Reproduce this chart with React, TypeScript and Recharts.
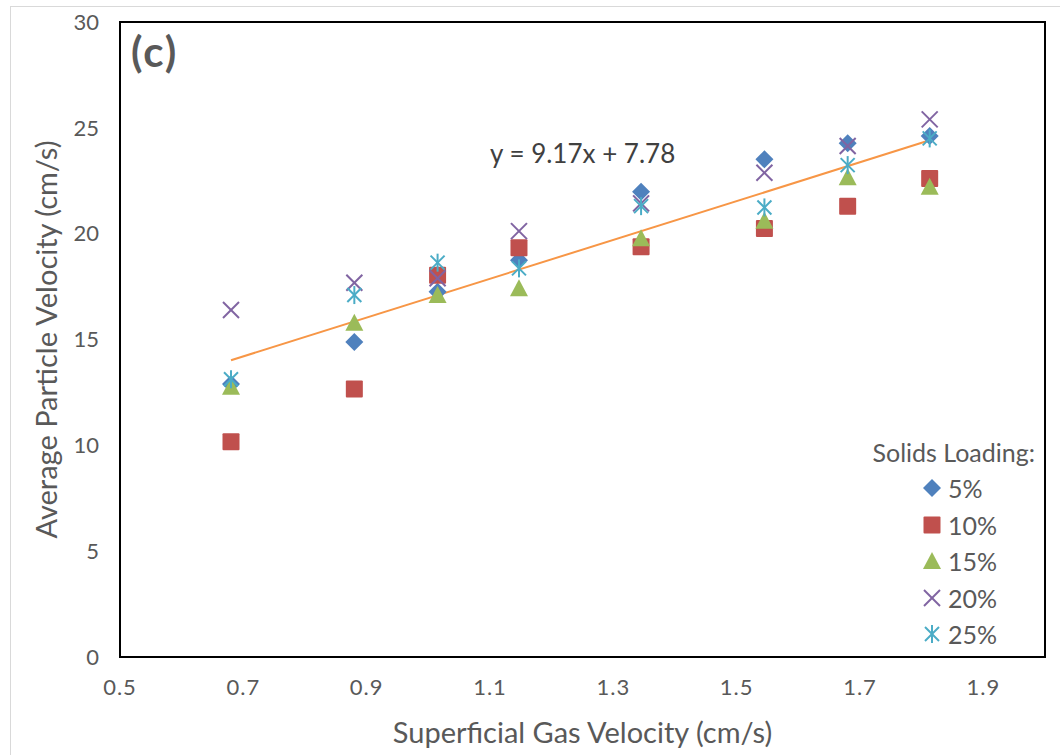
import React from 'react'
import {
  ScatterChart, Scatter, XAxis, YAxis, ReferenceArea, Legend, Label
} from 'recharts'

// superficial gas velocity (cm/s), shared by every loading series
const gasVelocity = [0.68, 0.88, 1.015, 1.147, 1.345, 1.545, 1.68, 1.813]

// average particle velocity (cm/s) per solids loading
const load5 = [12.9, 14.88, 17.26, 18.75, 21.98, 23.51, 24.27, 24.61]
const load10 = [10.17, 12.66, 18.04, 19.34, 19.38, 20.25, 21.3, 22.61]
const load15 = [12.77, 15.79, 17.1, 17.42, 19.78, 20.61, 22.66, 22.22]
const load20 = [16.39, 17.68, 17.89, 20.12, 21.43, 22.88, 24.14, 25.4]
const load25 = [13.12, 17.1, 18.63, 18.36, 21.3, 21.24, 23.24, 24.5]

// linear trendline end points, as drawn
const trendX = [0.68, 1.813]
const trendY = [14.02, 24.41]

const xTicks = [0.5, 0.7, 0.9, 1.1, 1.3, 1.5, 1.7, 1.9]
const yTicks = [0, 5, 10, 15, 20, 25, 30]

const FONT = 'Lato, "Open Sans", sans-serif'
const TEXT = '#595959'

type Kind = 'diamond' | 'square' | 'triangle' | 'x' | 'star'

const series: { name: string; kind: Kind; color: string; values: number[] }[] = [
  { name: '5%', kind: 'diamond', color: '#4F81BD', values: load5 },
  { name: '10%', kind: 'square', color: '#C0504D', values: load10 },
  { name: '15%', kind: 'triangle', color: '#9BBB59', values: load15 },
  { name: '20%', kind: 'x', color: '#8064A2', values: load20 },
  { name: '25%', kind: 'star', color: '#4BACC6', values: load25 },
]

const toPoints = (values: number[]) =>
  gasVelocity.map((x, i) => ({ x, y: values[i] }))

const trendData = trendX.map((x, i) => ({ x, y: trendY[i] }))

const Marker = ({ kind, cx, cy, color }: { kind: Kind; cx: number; cy: number; color: string }) => {
  if (cx == null || cy == null) return <g />
  switch (kind) {
    case 'diamond':
      return <polygon points={`${cx},${cy - 9} ${cx + 9},${cy} ${cx},${cy + 9} ${cx - 9},${cy}`} fill={color} />
    case 'square':
      return <rect x={cx - 8.5} y={cy - 8.5} width={17} height={17} rx={1} fill={color} />
    case 'triangle':
      return <polygon points={`${cx},${cy - 9} ${cx + 9},${cy + 8} ${cx - 9},${cy + 8}`} fill={color} />
    case 'x':
      return (
        <g stroke={color} strokeWidth={2}>
          <line x1={cx - 8} y1={cy - 8} x2={cx + 8} y2={cy + 8} />
          <line x1={cx - 8} y1={cy + 8} x2={cx + 8} y2={cy - 8} />
        </g>
      )
    default:
      return (
        <g stroke={color} strokeWidth={2}>
          <line x1={cx - 7} y1={cy - 7} x2={cx + 7} y2={cy + 7} />
          <line x1={cx - 7} y1={cy + 7} x2={cx + 7} y2={cy - 7} />
          <line x1={cx} y1={cy - 9} x2={cx} y2={cy + 9} />
        </g>
      )
  }
}

const LegendBox = () => (
  <div style={{ fontFamily: FONT, color: TEXT, fontSize: 25 }}>
    <div style={{ height: 36, lineHeight: '36px', textAlign: 'right', paddingRight: 5 }}>Solids Loading:</div>
    {series.map((s) => (
      <div key={s.name} style={{ display: 'flex', alignItems: 'center', height: 36.5, paddingLeft: 81 }}>
        <svg width={22} height={22} style={{ marginRight: 5 }}>
          <Marker kind={s.kind} cx={11} cy={11} color={s.color} />
        </svg>
        <span>{s.name}</span>
      </div>
    ))}
  </div>
)

export default function App() {
  return (
    <div style={{ position: 'absolute', left: 0, top: 0, width: 1060, height: 755, background: '#fff' }}>
      <div style={{ position: 'absolute', left: 10, top: 6, width: 1, height: 749, background: '#d9d9d9' }} />
      <div style={{ position: 'absolute', left: 10, top: 6, width: 1050, height: 1, background: '#d9d9d9' }} />
      <ScatterChart
        width={1060}
        height={755}
        margin={{ top: 22, right: 15, bottom: 8, left: 10 }}
      >
        <XAxis
          type="number"
          dataKey="x"
          domain={[0.5, 2.0]}
          ticks={xTicks}
          allowDataOverflow
          height={90}
          axisLine={false}
          tickLine={false}
          tickSize={0}
          tickMargin={22}
          tick={{ fill: TEXT, fontSize: 22, fontFamily: FONT, letterSpacing: 1 }}
          tickFormatter={(v: number) => v.toFixed(1)}
        >
          <Label
            value="Superficial Gas Velocity (cm/s)"
            position="insideBottom"
            offset={4}
            style={{ fill: TEXT, fontSize: 29, fontFamily: FONT }}
          />
        </XAxis>
        <YAxis
          type="number"
          dataKey="y"
          domain={[0, 30]}
          ticks={yTicks}
          width={110}
          axisLine={false}
          tickLine={false}
          tickSize={0}
          tickMargin={21}
          tick={{ fill: TEXT, fontSize: 22, fontFamily: FONT }}
        >
          <Label
            value="Average Particle Velocity (cm/s)"
            angle={-90}
            position="insideLeft"
            offset={37}
            style={{ fill: TEXT, fontSize: 29, fontFamily: FONT, textAnchor: 'middle' }}
          />
        </YAxis>
        <ReferenceArea x1={0.5} x2={2.0} y1={0} y2={30} fill="none" fillOpacity={0} stroke="#000" strokeWidth={2} ifOverflow="visible" />
        <Scatter
          name="trend"
          data={trendData}
          line={{ stroke: '#F79646', strokeWidth: 2 }}
          shape={() => <g />}
          legendType="none"
          isAnimationActive={false}
        />
        {series.map((s) => (
          <Scatter
            key={s.name}
            name={s.name}
            data={toPoints(s.values)}
            fill={s.color}
            shape={(p: any) => <Marker kind={s.kind} cx={p.cx} cy={p.cy} color={s.color} />}
            isAnimationActive={false}
          />
        ))}
        <Legend
          layout="vertical"
          verticalAlign="middle"
          align="center"
          content={() => <LegendBox />}
          wrapperStyle={{ left: 840, top: 434, width: 200 }}
        />
      </ScatterChart>
      <div style={{ position: 'absolute', left: 131, top: 24, fontFamily: FONT, fontWeight: 'bold', fontSize: 42, color: TEXT, lineHeight: '54px', letterSpacing: 2 }}>
        (c)
      </div>
      <div style={{ position: 'absolute', left: 490, top: 137, fontFamily: FONT, fontSize: 26, color: '#404040', lineHeight: '32px' }}>
        y = 9.17x + 7.78
      </div>
    </div>
  )
}
